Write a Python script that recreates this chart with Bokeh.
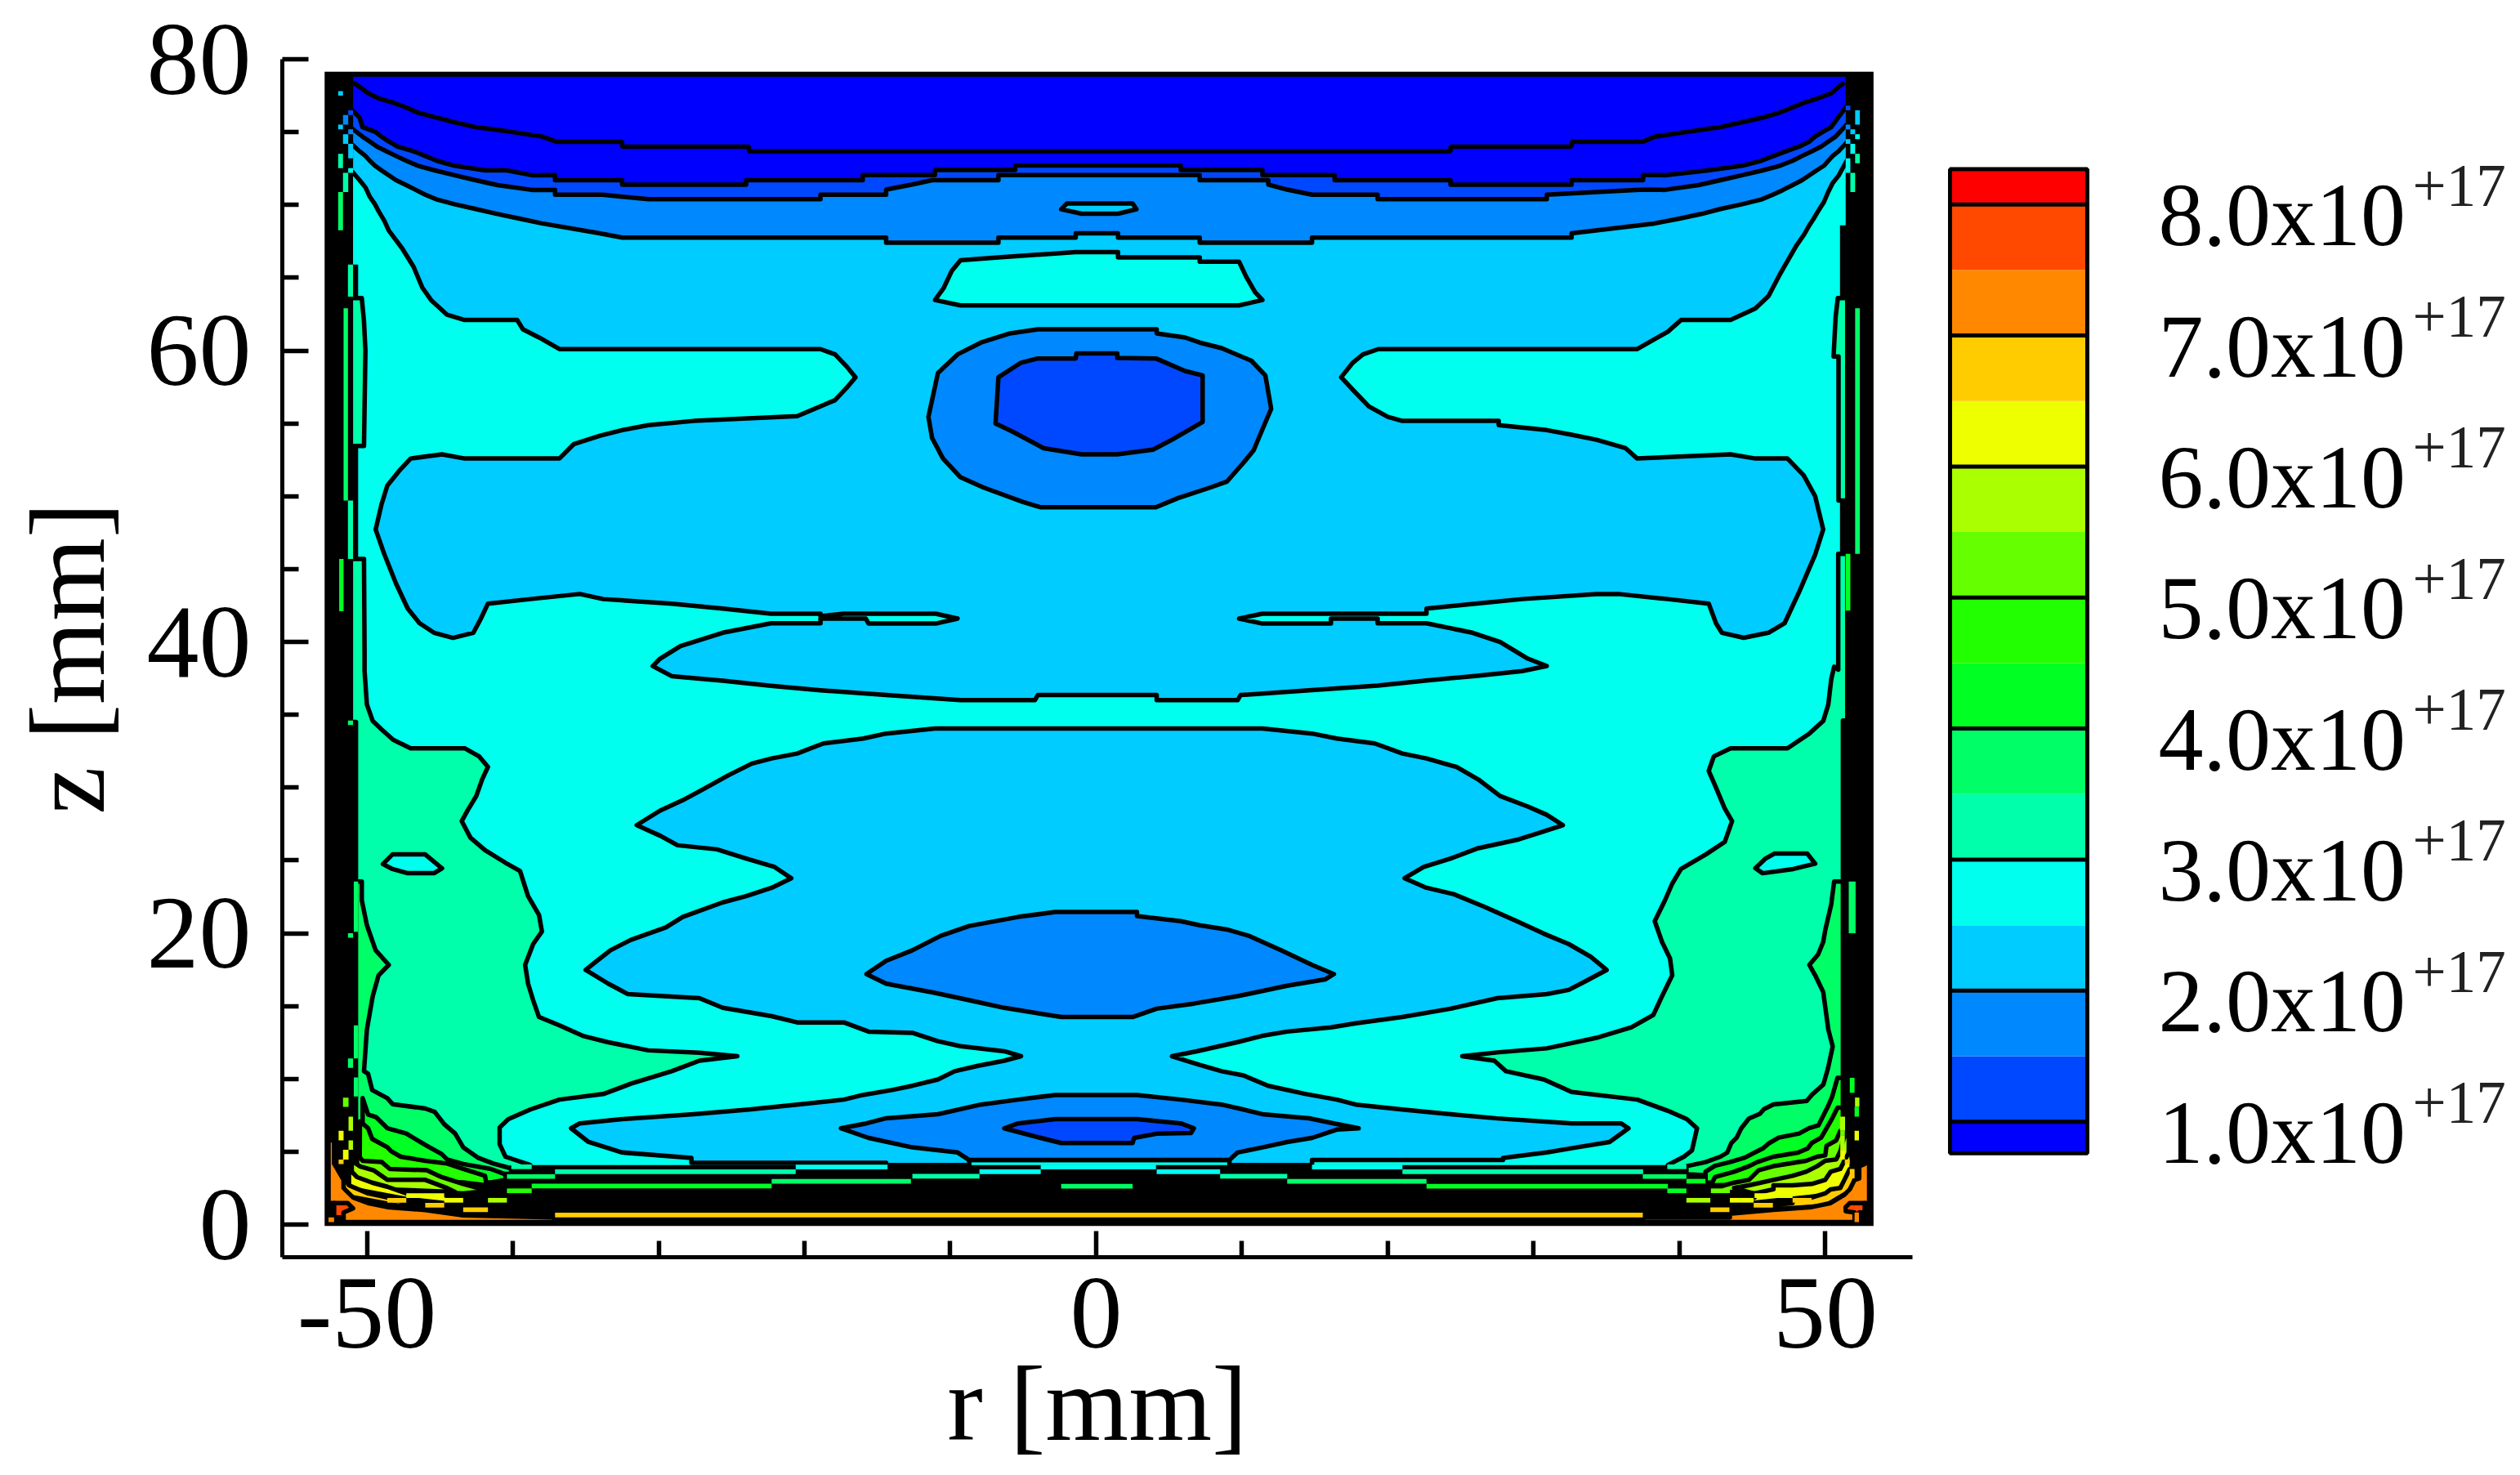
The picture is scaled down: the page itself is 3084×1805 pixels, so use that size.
from bokeh.plotting import figure
from bokeh.layouts import row
from bokeh.models import FixedTicker, Range1d
from bokeh.embed import file_html
from bokeh.resources import INLINE

# colours of the contour bands, lowest first
C_10 = "#0000ff"
C_15 = "#0048ff"
C_20 = "#0088ff"
C_25 = "#00ccff"
C_30 = "#00ffee"
C_35 = "#00ffaa"
C_40 = "#00ff66"
C_45 = "#00ff22"
C_50 = "#22ff00"
C_55 = "#66ff00"
C_60 = "#aaff00"
C_65 = "#eeff00"
C_70 = "#ffcc00"
C_75 = "#ff8800"
C_80 = "#ff4800"
C_85 = "#ff0000"

# colour bar
band_edges = [0.76, 1, 1.5, 2, 2.5, 3, 3.5, 4, 4.5, 5, 5.5, 6, 6.5, 7, 7.5, 8, 8.27]
band_colors = [C_10, C_15, C_20, C_25, C_30, C_35, C_40, C_45, C_50, C_55, C_60, C_65, C_70, C_75, C_80, C_85]
level_values = [1, 2, 3, 4, 5, 6, 7, 8]
level_labels = ["1.0x10", "2.0x10", "3.0x10", "4.0x10", "5.0x10", "6.0x10", "7.0x10", "8.0x10"]
level_exp = ["+17"] * 8

# axes
r_ticks = [-50, 0, 50]
r_minor = [-40, -30, -20, -10, 10, 20, 30, 40]
z_ticks = [0, 20, 40, 60, 80]
z_minor = [5, 10, 15, 25, 30, 35, 45, 50, 55, 65, 70, 75]

# contours, as (r, z) in mm
body = [(-50.95, 78.95), (51.39, 78.95), (51.39, 68.6), (51.0, 68.6), (51.0, 4.09), (-50.6, 4.09), (-50.6, 65.9), (-50.95, 65.9)]

teal_left_up = [(-51.1, 63.6), (-50.35, 63.6), (-50.2, 62), (-50.1, 60), (-50.2, 53.45), (-51.1, 53.45)]
teal_right_up = [(51.5, 63.6), (50.85, 63.6), (50.7, 62.3), (50.56, 59.6), (50.9, 59.6), (50.9, 49.7), (51.5, 49.7)]

teal_left = [(-51.1, 45.7), (-50.2, 45.7), (-50.16, 39.15), (-50.16, 38.0), (-50.0, 35.7), (-49.6, 34.57), (-49.0, 34.0), (-48.2, 33.28),
             (-47.0, 32.7), (-43.3, 32.7), (-42.3, 32.14), (-41.7, 31.42), (-42.1, 30.56), (-42.5, 29.42), (-43.1, 28.42), (-43.5, 27.7),
             (-42.9, 26.56), (-41.9, 25.7), (-40.5, 24.84), (-39.5, 24.27), (-38.95, 22.55), (-38.2, 21.26), (-38.0, 20.12), (-38.6, 19.26),
             (-39.15, 17.83), (-38.95, 16.54), (-38.6, 15.4), (-38.2, 14.25), (-36.8, 13.68), (-35.2, 12.96), (-33.5, 12.53), (-30.7, 11.96),
             (-27.2, 11.8), (-24.6, 11.56), (-27.2, 11.25), (-29.1, 10.53), (-31.9, 9.67), (-33.8, 8.96), (-36.8, 8.58), (-38.8, 7.9),
             (-40.3, 7.24), (-40.9, 6.67), (-40.9, 5.52), (-40.5, 4.66), (-38.8, 4.09), (-38.8, 3.9), (-50.75, 3.9), (-50.75, 34.5), (-51.1, 34.5)]

teal_right = [(51.5, 46.05), (50.88, 46.05), (50.88, 38.1), (50.6, 38.3), (50.4, 37.43), (50.2, 35.7), (49.85, 34.57), (48.9, 33.71), (47.4, 32.7),
              (43.5, 32.7), (42.35, 32.14), (42.0, 31.14), (42.5, 30.0), (43.1, 28.56), (43.6, 27.7), (43.1, 26.27), (41.8, 25.41), (40.1, 24.41),
              (39.5, 23.41), (39.0, 22.26), (38.3, 20.83), (38.8, 19.4), (39.35, 18.26), (39.5, 17.11), (38.8, 15.68), (38.2, 14.39), (36.7, 13.54),
              (34.3, 12.82), (30.9, 12.1), (27.5, 11.82), (25.1, 11.56), (27.3, 11.25), (28.1, 10.53), (30.7, 9.96), (32.6, 9.1), (37.1, 8.58),
              (39.2, 7.81), (40.5, 7.24), (41.2, 6.61), (40.85, 5.09), (40.3, 4.66), (39.2, 4.09), (39.2, 3.9), (51.2, 3.9), (51.2, 34.6), (51.5, 34.6)]

teal_isle_left = [(-48.9, 24.75), (-48.25, 25.41), (-46.0, 25.41), (-44.85, 24.46), (-45.4, 24.12), (-47.2, 24.12), (-48.25, 24.41)]
teal_isle_right = [(45.2, 24.46), (45.9, 25.13), (46.5, 25.47), (48.75, 25.47), (49.3, 24.78), (47.8, 24.41), (45.7, 24.12)]

blue_upper = [(-51.1, 78.95), (-51.1, 72.4), (-50.5, 71.7), (-50.1, 71.2), (-49.8, 70.56), (-49.45, 70.05), (-49.2, 69.57), (-48.8, 68.9), (-48.5, 68.24),
              (-47.6, 67.04), (-46.8, 65.75), (-46.2, 64.32), (-45.6, 63.47), (-44.5, 62.46), (-43.3, 62.1), (-39.7, 62.1), (-39.3, 61.46), (-38.2, 60.9),
              (-36.8, 60.1), (-18.9, 60.1), (-17.9, 59.74), (-17.1, 58.9), (-16.5, 58.17), (-17.1, 57.45), (-17.9, 56.6), (-18.9, 56.17), (-20.5, 55.5),
              (-27.6, 55.17), (-30.7, 54.88), (-32.5, 54.54), (-34.0, 54.16), (-35.8, 53.59), (-36.8, 52.59), (-43.3, 52.59), (-44.85, 52.88), (-47.0, 52.59),
              (-47.8, 51.73), (-48.6, 50.73), (-49.0, 49.44), (-49.4, 47.72), (-48.8, 46.0), (-48.0, 44.0), (-47.2, 42.29), (-46.4, 41.29), (-45.4, 40.63),
              (-44.1, 40.28), (-42.7, 40.63), (-42.2, 41.57), (-41.7, 42.63), (-38.8, 42.94), (-35.4, 43.29), (-33.8, 42.94), (-29.1, 42.63), (-25.6, 42.29),
              (-22.3, 41.94), (-18.9, 41.94), (-18.9, 41.77), (-17.3, 41.94), (-11.0, 41.94), (-9.5, 41.6), (-11.0, 41.26), (-15.6, 41.26), (-15.8, 41.6),
              (-18.9, 41.6), (-18.9, 41.28), (-22.3, 41.28), (-25.6, 40.63), (-28.5, 39.71), (-29.9, 38.85), (-30.4, 38.34), (-29.1, 37.65), (-25.6, 37.34),
              (-22.3, 36.99), (-18.9, 36.68), (-14.4, 36.35), (-9.3, 36.0), (-4.2, 36.0), (-4.0, 36.35), (4.15, 36.35), (4.15, 36.0), (9.7, 36.0), (9.9, 36.35),
              (14.8, 36.69), (19.3, 37.0), (22.65, 37.35), (26.0, 37.66), (29.2, 38.0), (30.9, 38.35), (29.6, 38.85), (27.7, 40.0), (25.8, 40.63), (22.65, 41.28),
              (19.3, 41.28), (19.3, 41.6), (16.1, 41.6), (16.1, 41.26), (11.4, 41.26), (9.8, 41.6), (11.4, 41.94), (17.6, 41.94), (19.3, 41.94), (22.65, 41.94),
              (22.65, 42.29), (26.0, 42.63), (29.2, 42.94), (34.3, 43.29), (35.8, 43.29), (39.2, 42.94), (42.0, 42.63), (42.5, 41.28), (42.9, 40.63), (44.4, 40.28),
              (46.1, 40.63), (47.2, 41.28), (48.2, 43.43), (49.3, 46.0), (49.85, 47.72), (49.3, 50.0), (48.5, 51.45), (47.4, 52.59), (45.2, 52.59), (43.5, 52.88),
              (37.1, 52.59), (36.3, 53.3), (34.3, 53.88), (32.6, 54.22), (30.9, 54.54), (27.6, 54.88), (27.6, 55.17), (21.0, 55.17), (20.0, 55.45), (18.7, 56.17),
              (17.6, 57.31), (16.8, 58.17), (17.6, 59.17), (18.3, 59.74), (19.35, 60.1), (37.1, 60.1), (39.2, 61.3), (40.1, 62.1), (43.5, 62.1), (45.2, 62.89),
              (46.1, 63.75), (46.85, 65.18), (48.0, 67.19), (48.55, 67.98), (48.9, 68.6), (49.2, 69.06), (49.5, 69.57), (49.9, 70.2), (50.2, 70.9), (50.5, 71.5),
              (50.9, 72.0), (51.55, 73.2), (51.55, 78.95)]

blue_lower = [(-11.05, 34.06), (-14.4, 33.71), (-15.96, 33.37), (-18.7, 33.03), (-20.5, 32.34), (-22.25, 32.0), (-23.6, 31.65), (-25.2, 30.85), (-27.0, 29.85),
              (-28.35, 29.13), (-29.9, 28.42), (-31.5, 27.42), (-29.9, 26.7), (-28.7, 26.04), (-26.0, 25.76), (-24.0, 25.13), (-22.05, 24.55), (-20.9, 23.78),
              (-22.25, 23.12), (-24.0, 22.55), (-25.6, 22.12), (-28.35, 21.12), (-29.5, 20.4), (-31.9, 19.55), (-33.3, 18.83), (-34.4, 17.97), (-35.0, 17.48),
              (-33.45, 16.54), (-32.1, 15.82), (-27.2, 15.54), (-25.6, 14.88), (-22.25, 14.31), (-20.5, 13.88), (-17.3, 13.88), (-15.6, 13.25), (-12.6, 13.16),
              (-10.85, 12.59), (-9.3, 12.25), (-6.3, 11.9), (-5.15, 11.56), (-6.3, 11.25), (-8.1, 10.9), (-9.7, 10.53), (-10.85, 9.96), (-12.6, 9.53), (-14.0, 9.24),
              (-16.0, 8.9), (-17.3, 8.58), (-20.5, 8.24), (-23.8, 7.9), (-27.6, 7.58), (-32.5, 7.24), (-35.4, 6.95), (-36.0, 6.61), (-34.8, 5.67), (-32.5, 4.95),
              (-27.75, 4.58), (-27.75, 4.24), (-14.4, 4.24), (-14.4, 4.09), (-8.7, 4.09), (-8.7, 4.43), (9.14, 4.43), (9.14, 4.09), (14.8, 4.09), (14.8, 4.43),
              (27.9, 4.43), (27.9, 4.58), (30.9, 4.95), (32.6, 5.24), (35.2, 5.67), (36.5, 6.61), (36.0, 6.95), (32.6, 6.95), (27.5, 7.29), (24.3, 7.58), (21.0, 7.9),
              (17.8, 8.24), (16.5, 8.58), (14.4, 8.96), (11.8, 9.53), (10.1, 10.24), (8.6, 10.53), (7.1, 10.96), (5.2, 11.56), (6.9, 11.9), (9.7, 12.53), (11.4, 12.96),
              (13.1, 13.25), (16.1, 13.54), (17.8, 13.82), (21.0, 14.25), (24.3, 14.82), (27.5, 15.54), (30.9, 15.82), (32.4, 16.11), (33.5, 16.68), (35.0, 17.48),
              (33.9, 18.4), (32.4, 19.26), (30.7, 19.97), (28.84, 20.83), (26.6, 21.83), (24.5, 22.69), (22.65, 23.12), (21.15, 23.78), (22.46, 24.55), (24.3, 25.13),
              (26.2, 25.84), (28.84, 26.41), (30.7, 26.99), (32.0, 27.42), (30.9, 28.13), (29.6, 28.7), (27.7, 29.42), (26.2, 30.56), (24.7, 31.42), (22.65, 32.0),
              (21.0, 32.34), (19.1, 33.03), (16.5, 33.37), (14.8, 33.71), (11.4, 34.06)]

lens_mid = [(-2.8, 21.46), (-5.35, 21.12), (-8.7, 20.5), (-10.65, 19.83), (-12.6, 18.83), (-14.4, 18.11), (-15.75, 17.2), (-14.4, 16.54), (-11.05, 15.91),
            (-8.7, 15.4), (-6.3, 14.88), (-2.4, 14.25), (2.5, 14.25), (4.15, 14.82), (6.7, 15.17), (9.7, 15.68), (13.1, 16.4), (15.7, 16.83), (16.3, 17.2),
            (14.8, 17.83), (12.7, 18.83), (10.45, 19.83), (8.96, 20.26), (7.1, 20.55), (5.8, 20.83), (2.8, 21.18), (2.8, 21.46)]

lens_low = [(-2.8, 8.9), (-5.35, 8.58), (-7.9, 8.24), (-10.85, 7.58), (-14.4, 7.3), (-15.75, 6.95), (-17.5, 6.61), (-15.6, 5.95), (-12.6, 5.3), (-9.5, 4.95),
            (-8.7, 4.43), (9.14, 4.43), (9.7, 4.95), (11.4, 5.3), (13.1, 5.67), (14.8, 5.95), (16.5, 6.52), (18.0, 6.61), (16.3, 6.95), (14.6, 7.3), (11.4, 7.58),
            (10.1, 7.9), (8.6, 8.24), (5.8, 8.58), (2.8, 8.9)]

lens_low_in = [(-2.8, 7.24), (-5.35, 6.95), (-6.3, 6.61), (-3.8, 5.95), (-2.4, 5.6), (2.5, 5.6), (2.6, 5.95), (4.15, 6.24), (6.5, 6.29), (6.7, 6.61), (5.8, 6.95), (2.8, 7.24)]

ring_out = [(-4.0, 61.46), (-5.9, 61.18), (-7.9, 60.55), (-9.5, 59.74), (-10.85, 58.46), (-11.25, 56.6), (-11.5, 55.45), (-11.25, 54.0), (-10.5, 52.59),
            (-9.3, 51.3), (-7.7, 50.59), (-5.0, 49.6), (-3.8, 49.24), (4.1, 49.24), (5.6, 49.87), (7.8, 50.59), (8.96, 51.0), (10.1, 52.3), (10.8, 53.16),
            (11.4, 54.59), (12.0, 56.0), (11.6, 58.3), (10.65, 59.3), (8.6, 60.17), (7.1, 60.55), (6.1, 60.9), (4.15, 61.18), (4.15, 61.46)]

ring_in = [(-4.0, 59.46), (-5.15, 59.17), (-6.7, 58.17), (-6.9, 55.0), (-5.75, 54.45), (-3.6, 53.3), (-1.0, 52.88), (1.45, 52.88), (3.9, 53.2), (5.2, 53.88),
           (7.3, 55.1), (7.3, 58.3), (6.1, 58.6), (4.1, 59.46), (1.45, 59.5), (1.45, 59.8), (-1.36, 59.8), (-1.4, 59.46)]

isle_top = [(-9.3, 66.2), (-6.7, 66.4), (-1.4, 66.76), (1.5, 66.76), (1.5, 66.4), (7.1, 66.4), (7.1, 66.1), (9.8, 66.1), (10.3, 65.04), (10.9, 64.0), (11.4, 63.47),
            (9.8, 63.1), (-9.3, 63.1), (-11.05, 63.47), (-10.45, 64.3), (-9.9, 65.47)]

isle_small = [(-2.4, 69.7), (-2.0, 70.1), (2.5, 70.1), (2.76, 69.7), (1.5, 69.4), (-1.0, 69.4)]

cap_20 = [(-51.1, 78.95), (-51.1, 74.2), (-50.85, 74.0), (-50.5, 73.68), (-50.1, 73.36), (-49.8, 73.03), (-49.45, 72.69), (-49.0, 72.37), (-48.5, 72.03), (-48.0, 71.7),
          (-47.3, 71.36), (-46.65, 71.03), (-46.0, 70.7), (-45.2, 70.37), (-44.0, 70.05), (-42.55, 69.72), (-41.05, 69.38), (-39.55, 69.06), (-38.0, 68.73), (-34.04, 68.05),
          (-32.5, 67.76), (-14.4, 67.76), (-14.4, 67.41), (-6.7, 67.41), (-6.7, 67.76), (-1.4, 67.76), (-1.4, 68.05), (1.5, 68.05), (1.5, 67.76), (7.1, 67.76), (7.1, 67.41),
          (14.8, 67.41), (14.8, 67.76), (32.6, 67.76), (32.6, 68.05), (38.3, 68.73), (40.0, 69.06), (41.5, 69.38), (42.8, 69.72), (44.3, 70.05), (45.6, 70.37), (46.4, 70.7),
          (47.1, 71.03), (47.75, 71.36), (48.4, 71.7), (48.9, 72.03), (49.4, 72.37), (49.9, 72.69), (50.2, 73.03), (50.5, 73.36), (50.9, 73.68), (51.2, 74.0), (51.55, 74.4), (51.55, 78.95)]

cap_15 = [(-51.1, 78.95), (-51.1, 75.3), (-50.76, 75.04), (-50.3, 74.69), (-49.8, 74.35), (-49.3, 74.0), (-48.65, 73.68), (-48.0, 73.36), (-47.3, 73.03), (-46.5, 72.69), (-45.35, 72.37),
          (-44.0, 72.04), (-42.55, 71.7), (-41.05, 71.36), (-38.7, 71.03), (-37.1, 71.03), (-37.1, 70.7), (-33.85, 70.7), (-30.7, 70.39), (-18.9, 70.39), (-18.9, 70.7), (-14.4, 70.7),
          (-14.4, 71.05), (-12.6, 71.4), (-11.25, 71.7), (-6.7, 71.7), (-6.7, 72.05), (7.1, 72.05), (7.1, 71.7), (11.8, 71.7), (11.8, 71.4), (13.1, 71.05), (14.8, 70.7), (19.3, 70.7),
          (19.3, 70.39), (30.9, 70.39), (30.9, 70.7), (37.5, 71.05), (38.98, 71.03), (41.3, 71.36), (42.8, 71.7), (44.3, 72.04), (45.7, 72.37), (46.9, 72.69), (47.75, 73.03), (48.4, 73.36),
          (49.06, 73.68), (49.7, 74.0), (50.2, 74.35), (50.7, 74.69), (51.55, 75.6), (51.55, 78.95)]

cap_10 = [(-51.1, 78.95), (-51.1, 76.6), (-50.95, 76.45), (-50.5, 75.98), (-50.3, 75.34), (-49.45, 75.03), (-49.0, 74.69), (-48.5, 74.35), (-47.9, 74.0), (-46.8, 73.68), (-46.0, 73.36), (-45.2, 73.03),
          (-44.0, 72.69), (-41.9, 72.37), (-40.4, 72.37), (-38.7, 72.04), (-37.1, 72.05), (-37.1, 71.7), (-32.5, 71.7), (-32.5, 71.39), (-24.0, 71.39), (-24.0, 71.7), (-16.0, 71.7), (-16.0, 72.05),
          (-11.05, 72.05), (-11.05, 72.4), (-5.55, 72.4), (-5.55, 72.71), (5.8, 72.71), (5.8, 72.4), (11.4, 72.4), (11.4, 72.05), (16.35, 72.05), (16.35, 71.7), (24.3, 71.7), (24.3, 71.39), (32.6, 71.39),
          (32.6, 71.7), (37.5, 71.7), (37.5, 72.05), (38.98, 72.04), (41.96, 72.37), (44.3, 72.69), (45.6, 73.03), (46.45, 73.36), (47.3, 73.68), (48.2, 74.0), (48.9, 74.35), (49.3, 74.69), (49.8, 75.0),
          (50.4, 75.34), (51.0, 76.17), (51.55, 76.9), (51.55, 78.95)]

line_top = [(-50.95, 78.41), (-50.4, 78.03), (-49.9, 77.66), (-49.2, 77.32), (-48.15, 77.0), (-47.3, 76.69), (-46.56, 76.35), (-45.35, 76.02), (-44.0, 75.68), (-42.55, 75.34), (-40.2, 75.03), (-38.0, 74.69),
            (-37.0, 74.34), (-32.5, 74.34), (-32.5, 74.0), (-23.8, 74.0), (-23.8, 73.68), (24.3, 73.68), (24.3, 74.0), (32.6, 74.0), (32.6, 74.34), (37.5, 74.34), (38.3, 74.69), (40.65, 75.03), (42.8, 75.34),
            (44.3, 75.68), (45.8, 76.02), (46.9, 76.35), (47.75, 76.69), (48.5, 77.0), (49.5, 77.32), (50.4, 77.66), (50.8, 78.0), (51.3, 78.41)]

# bottom left corner, outermost band first
corner_l_40 = [(-50.75, 23.55), (-50.35, 23.55), (-50.35, 22.26), (-50.0, 20.55), (-49.4, 18.83), (-48.5, 17.83), (-49.2, 17.11), (-49.6, 15.68), (-50.0, 13.39), (-50.2, 10.53), (-49.92, 10.36),
               (-49.64, 9.24), (-48.6, 8.68), (-48.24, 8.27), (-46.0, 7.97), (-45.35, 7.74), (-44.7, 6.9), (-43.95, 6.25), (-43.4, 5.31), (-42.4, 4.6), (-41.33, 4.19), (-40.12, 3.86), (-40.1, 3.5), (-50.75, 3.0)]
corner_l_45 = [(-50.29, 8.68), (-49.92, 7.56), (-49.36, 7.37), (-48.6, 6.62), (-47.3, 6.25), (-46.37, 5.69), (-45.72, 5.31), (-44.88, 4.85), (-44.5, 4.47), (-43.4, 4.16), (-41.5, 3.82), (-40.5, 3.45),
               (-40.5, 3.07), (-41.5, 2.9), (-50.3, 3.0)]
corner_l_50 = [(-50.48, 7.09), (-49.92, 6.62), (-49.64, 5.88), (-48.6, 5.31), (-48.33, 5.03), (-47.68, 4.66), (-46.0, 4.38), (-44.5, 4.19), (-43.4, 3.82), (-41.9, 3.35), (-41.8, 2.7), (-43.4, 2.9), (-50.5, 3.0)]
corner_l_55 = [(-50.67, 4.85), (-50.29, 4.38), (-48.98, 4.29), (-48.43, 3.82), (-45.9, 3.73), (-44.88, 3.26), (-43.4, 2.79), (-41.7, 2.32), (-43.4, 2.14), (-50.7, 2.5)]
corner_l_60 = [(-51.04, 4.38), (-50.48, 4.0), (-49.55, 3.73), (-48.6, 3.07), (-46.0, 3.07), (-44.5, 2.51), (-43.95, 2.23), (-46.0, 2.32), (-51.04, 2.5)]
corner_l_65 = [(-51.23, 3.82), (-50.67, 3.26), (-49.64, 2.88), (-48.6, 2.6), (-47.3, 2.14), (-44.7, 2.04), (-43.4, 1.48), (-44.7, 1.48), (-47.3, 1.76), (-51.23, 2.5)]
corner_l_70 = [(-51.6, 3.45), (-51.23, 2.7), (-49.92, 2.14), (-48.6, 1.86), (-47.3, 1.48), (-44.7, 1.2), (-41.7, 1.02), (-41.7, 0.83), (-43.4, 0.92), (-47.3, 1.2), (-51.6, 2.0)]
corner_l_75 = [(-52.63, 5.78), (-52.25, 5.78), (-52.25, 4.19), (-51.6, 3.07), (-51.6, 2.51), (-50.95, 1.86), (-49.92, 1.48), (-48.6, 1.2), (-46.0, 1.0), (-43.4, 0.64), (-37.13, 0.49), (-37.13, 0.17),
               (-51.6, 0.17), (-51.6, 0.49), (-52.25, 0.49), (-52.25, 1.48), (-52.63, 1.48)]
corner_l_80 = [(-52.25, 1.48), (-51.32, 1.48), (-50.95, 1.11), (-51.6, 0.83), (-51.6, 0.49), (-52.25, 0.49)]

# bottom right corner
corner_r_40 = [(51.2, 23.55), (50.6, 23.55), (50.4, 21.98), (50.0, 20.26), (49.85, 19.4), (49.5, 18.54), (48.9, 17.83), (49.3, 17.11), (49.85, 15.97), (50.2, 13.39), (50.5, 12.23), (50.18, 10.73), (49.86, 9.61),
               (49.06, 8.9), (48.72, 8.49), (46.44, 8.25), (45.79, 7.93), (45.51, 7.6), (44.76, 7.28), (44.24, 6.62), (43.92, 5.97), (43.55, 5.6), (43.27, 4.94), (42.8, 4.66), (41.78, 4.29), (40.47, 4.01),
               (40.47, 3.45), (50.0, 3.0), (51.2, 3.5)]
corner_r_45 = [(50.83, 10.08), (50.46, 8.77), (50.18, 8.12), (49.8, 7.37), (49.52, 6.81), (48.87, 6.62), (48.2, 6.25), (46.8, 5.97), (46.16, 5.6), (45.7, 5.22), (45.14, 4.94), (44.48, 4.6), (43.45, 4.29),
               (42.43, 4.04), (41.78, 3.63), (41.78, 2.88), (51.2, 3.0), (51.2, 10.08)]
corner_r_50 = [(50.83, 8.02), (50.46, 7.28), (50.08, 6.62), (49.71, 5.97), (49.06, 5.6), (48.78, 5.22), (48.12, 4.94), (46.44, 4.66), (45.32, 4.29), (44.76, 4.01), (43.74, 3.63), (42.43, 3.26), (42.15, 2.7), (51.2, 2.8), (51.2, 8.02)]
corner_r_55 = [(51.02, 6.44), (50.74, 5.78), (50.08, 5.41), (49.99, 4.75), (49.43, 4.66), (48.68, 4.38), (46.44, 4.01), (45.42, 3.73), (44.76, 3.07), (43.74, 2.88), (42.15, 2.42), (43.45, 2.23), (51.4, 2.5), (51.4, 6.44)]
corner_r_60 = [(51.3, 6.06), (51.02, 5.03), (50.74, 4.47), (49.99, 4.38), (49.43, 4.01), (48.68, 3.63), (47.75, 3.35), (46.44, 3.07), (44.76, 2.7), (43.74, 2.51), (44.76, 2.23), (45.14, 2.14), (51.6, 2.4), (51.6, 6.06)]
corner_r_65 = [(51.67, 5.03), (51.3, 4.38), (51.02, 3.82), (50.36, 3.63), (49.99, 3.07), (49.06, 2.79), (47.75, 2.7), (46.44, 2.7), (46.44, 2.42), (45.14, 2.14), (45.14, 1.86), (43.45, 1.76), (45.14, 1.5), (51.8, 2.2), (51.8, 5.03)]
corner_r_70 = [(51.67, 3.82), (51.3, 3.07), (51.02, 2.51), (50.36, 2.42), (49.99, 2.14), (49.06, 1.86), (47.75, 1.76), (47.75, 1.48), (45.14, 1.2), (43.45, 1.1), (42.15, 1.02), (42.15, 0.83), (43.45, 0.83), (50.0, 1.3), (52.0, 2.5), (52.0, 3.82)]
corner_r_75 = [(53.0, 5.78), (52.7, 5.78), (52.7, 4.16), (52.32, 4.01), (52.32, 3.17), (52.0, 3.07), (51.67, 2.42), (51.3, 2.04), (50.36, 1.48), (49.06, 1.2), (46.44, 1.02), (43.45, 0.74), (43.45, 0.49), (37.48, 0.49),
               (37.48, 0.17), (52.0, 0.17), (52.0, 0.49), (52.7, 0.83), (52.7, 1.48), (53.0, 1.48)]
corner_r_80 = [(51.67, 1.48), (52.7, 1.48), (52.7, 0.83), (52.32, 0.83), (52.32, 0.49), (52.0, 0.49), (52.0, 0.83), (51.39, 0.92), (51.39, 1.2)]

# thin pieces left between the stacked lines along the floor: r from, r to, z centre, colour
floor_r0 = [-40.1, -37.1, -40.4, -38.7, -40.4, -20.6, -22.25, -12.6, -8.0, -3.8, -2.4, 4.15, 8.5, 13.1, 22.65, 21.0, 14.8, 37.48, 39.16, 39.16, 40.47, 42.15,
            -41.7, -43.4, -44.7, -46.0, -47.3, -48.6, 40.47, 42.11, 43.45, 45.08, 45.14, 47.75, -37.1]
floor_r1 = [-38.7, -20.6, -37.1, -22.25, -38.7, -14.3, -12.7, -8.0, -3.8, 4.1, 2.5, 8.5, 13.1, 22.65, 39.2, 37.5, 21.0, 40.47, 40.47, 40.47, 41.78, 43.45,
            -40.4, -41.7, -43.4, -44.7, -44.7, -47.3, 42.11, 43.42, 45.08, 46.4, 47.75, 49.06, 37.48]
floor_z = [3.97, 3.63, 3.3, 2.65, 2.32, 3.95, 2.97, 3.32, 3.63, 3.95, 2.63, 3.63, 3.32, 2.97, 2.63, 3.63, 3.95, 3.3, 3.97, 2.32, 2.98, 2.32,
           1.67, 1.02, 1.67, 1.33, 1.99, 1.67, 1.67, 1.02, 1.67, 1.33, 1.99, 1.67, 0.66]
floor_color = [C_35, C_35, C_40, C_45, C_50, C_30, C_40, C_35, C_30, C_30, C_40, C_30, C_35, C_40, C_45, C_35, C_30, C_40, C_35, C_45, C_45, C_55,
               C_60, C_70, C_65, C_70, C_65, C_70, C_60, C_70, C_65, C_70, C_65, C_70, C_70]

# small pieces left inside the black side walls: r from, r to, z from, z to, colour
wall_r0 = [-51.97, -51.28, -51.64, -51.97, -51.28, -51.64, -51.28, -51.97, -51.28, -51.64, -51.97, -51.3, -51.6, -51.3, -51.9, -51.3, -50.9, -51.3, -50.9, -51.3, -50.9,
           -51.64, -51.26, -51.94, -51.26, -51.64, -51.94, -52.63,
           51.39, 52.04, 51.39, 51.71, 52.04, 51.39, 51.71, 52.04, 51.39, 51.71, 52.04, 51.39, 51.6, 52.03, 51.0,
           52.0, 51.67, 52.0, 51.02, 51.02, 51.02, 51.33, 51.67, 52.0, 51.67, 52.7]
wall_r1 = [-51.64, -50.95, -51.28, -51.64, -50.95, -51.28, -50.95, -51.64, -50.95, -51.28, -51.64, -50.95, -51.3, -50.95, -51.6, -50.95, -50.6, -50.95, -50.6, -50.95, -50.6,
           -51.26, -50.95, -51.6, -50.95, -51.26, -51.6, -52.25,
           51.71, 52.36, 51.71, 52.04, 52.36, 51.71, 52.04, 52.36, 51.71, 52.04, 52.36, 51.71, 52.07, 52.33, 51.35,
           52.3, 52.0, 52.3, 51.33, 51.33, 51.33, 51.67, 52.0, 52.3, 52.0, 53.0]
wall_z0 = [77.5, 76.17, 75.51, 75.19, 74.86, 74.2, 73.2, 72.52, 72.2, 70.88, 68.26, 63.7, 49.7, 45.7, 42.1, 34.3, 20.1, 19.7, 11.4, 10.76, 8.8,
           8.08, 6.44, 5.78, 5.13, 4.47, 4.16, 0.17,
           76.5, 75.51, 75.19, 74.86, 74.52, 74.2, 73.51, 72.86, 72.2, 70.88, 46.05, 42.15, 20.0,
           8.08, 6.44, 5.78, 9.05, 7.41, 6.1, 5.13, 4.47, 4.16, 3.17, 0.17]
wall_z1 = [77.81, 76.5, 76.17, 75.51, 75.19, 74.86, 74.2, 73.51, 72.52, 72.2, 70.88, 65.9, 62.9, 49.7, 45.7, 34.6, 23.55, 20.0, 13.68, 11.4, 10.1,
           8.72, 7.41, 6.44, 5.78, 5.13, 4.47, 0.49,
           76.82, 76.5, 75.51, 75.19, 74.86, 74.52, 74.2, 73.51, 73.2, 72.2, 62.9, 46.05, 23.55,
           8.72, 7.41, 6.44, 10.08, 8.08, 6.44, 6.1, 5.13, 4.47, 3.82, 0.83]
wall_color = [C_25, C_15, C_20, C_25, C_20, C_25, C_25, C_35, C_30, C_35, C_40, C_35, C_40, C_35, C_45, C_40, C_40, C_40, C_40, C_40, C_40,
              C_55, C_60, C_65, C_60, C_65, C_70, C_75,
              C_15, C_25, C_20, C_25, C_30, C_25, C_30, C_35, C_30, C_35, C_40, C_45, C_40,
              C_60, C_60, C_65, C_45, C_45, C_55, C_60, C_65, C_70, C_70, C_75]

SERIF = "Liberation Serif"
LW = 5.5

p = figure(width=2348, height=1797, output_backend="svg", toolbar_location=None,
           x_range=Range1d(-55.8, 55.97), y_range=Range1d(-2.24, 80),
           min_border_left=345, min_border_right=8, min_border_top=72, min_border_bottom=259,
           x_axis_label="r [mm]", y_axis_label="z [mm]")
p.grid.visible = False
p.outline_line_color = None
p.background_fill_color = "white"


def draw(pts, color, line=True):
    rs = [a[0] for a in pts]
    zs = [a[1] for a in pts]
    p.patch(rs, zs, fill_color=color, line_color="black" if line else color, line_width=LW if line else 0, line_join="round")


# black panel first, the bands are painted over it
p.quad(left=[-52.9], right=[53.3], bottom=[-0.1], top=[79.15], fill_color="black", line_color=None)
draw(body, C_30, line=False)
draw(teal_left_up, C_35)
draw(teal_right_up, C_35)
draw(teal_left, C_35)
draw(teal_right, C_35)
draw(teal_isle_left, C_30)
draw(teal_isle_right, C_30)
draw(blue_upper, C_25)
draw(blue_lower, C_25)
draw(isle_top, C_30)
draw(cap_20, C_20)
draw(isle_small, C_25)
draw(cap_15, C_15)
draw(cap_10, C_10)
draw(ring_out, C_20)
draw(ring_in, C_15)
draw(lens_mid, C_20)
draw(lens_low, C_20)
draw(lens_low_in, C_15)
p.line([a[0] for a in line_top], [a[1] for a in line_top], line_color="black", line_width=LW)

for poly, col in [(corner_l_40, C_40), (corner_l_45, C_45), (corner_l_50, C_50), (corner_l_55, C_55), (corner_l_60, C_60),
                  (corner_l_65, C_65), (corner_l_70, C_70), (corner_l_75, C_75), (corner_l_80, C_80),
                  (corner_r_40, C_40), (corner_r_45, C_45), (corner_r_50, C_50), (corner_r_55, C_55), (corner_r_60, C_60),
                  (corner_r_65, C_65), (corner_r_70, C_70), (corner_r_75, C_75), (corner_r_80, C_80)]:
    draw(poly, col)

p.quad(left=floor_r0, right=floor_r1, bottom=[z - 0.16 for z in floor_z], top=[z + 0.16 for z in floor_z],
       fill_color=floor_color, line_color=None)
p.quad(left=wall_r0, right=wall_r1, bottom=wall_z0, top=wall_z1, fill_color=wall_color, line_color=None)

for ax in [p.xaxis[0], p.yaxis[0]]:
    ax.axis_line_color = "black"
    ax.axis_line_width = 5
    ax.major_tick_line_color = "black"
    ax.major_tick_line_width = 5.5
    ax.minor_tick_line_color = "black"
    ax.minor_tick_line_width = 5.5
    ax.major_tick_out = 0
    ax.minor_tick_out = 0
    ax.major_tick_in = 32
    ax.minor_tick_in = 20
    ax.major_label_text_font = SERIF
    ax.major_label_text_font_size = "128px"
    ax.major_label_text_color = "black"
    ax.axis_label_text_font = SERIF
    ax.axis_label_text_font_size = "131px"
    ax.axis_label_text_font_style = "normal"
    ax.axis_label_text_color = "black"
p.xaxis.ticker = FixedTicker(ticks=r_ticks, minor_ticks=r_minor)
p.yaxis.ticker = FixedTicker(ticks=z_ticks, minor_ticks=z_minor)
p.xaxis.major_label_overrides = {-50: "-50"}
p.xaxis.major_label_standoff = 26
p.yaxis.major_label_standoff = 38
p.xaxis.axis_label_standoff = -7
p.yaxis.axis_label_standoff = 22
p.yaxis.major_label_orientation = "horizontal"

# colour bar, its frame is lined up with the frame of the plot by the row
cb = figure(width=728, height=1797, output_backend="svg", toolbar_location=None,
            x_range=Range1d(0, 728), y_range=Range1d(-0.034, 9.108),
            min_border_left=0, min_border_right=0, min_border_top=72, min_border_bottom=259)
cb.axis.visible = False
cb.grid.visible = False
cb.outline_line_color = None
cb.quad(left=38, right=206, bottom=band_edges[:-1], top=band_edges[1:], fill_color=band_colors, line_color=None)
cb.segment(x0=38, x1=206, y0=level_values, y1=level_values, line_color="black", line_width=5)
cb.quad(left=[38], right=[206], bottom=[band_edges[0]], top=[band_edges[-1]], fill_color=None, line_color="black", line_width=5)
cb.text(x=293, y=level_values, text=level_labels, text_font=SERIF, text_font_size="110px", text_color="black",
        text_baseline="alphabetic", text_align="left", y_offset=13)
cb.text(x=604, y=level_values, text=level_exp, text_font=SERIF, text_font_size="73px", text_color="#222222",
        text_baseline="alphabetic", text_align="left", y_offset=-23)

open("out.html", "w").write(file_html(row(p, cb, spacing=0), INLINE))
